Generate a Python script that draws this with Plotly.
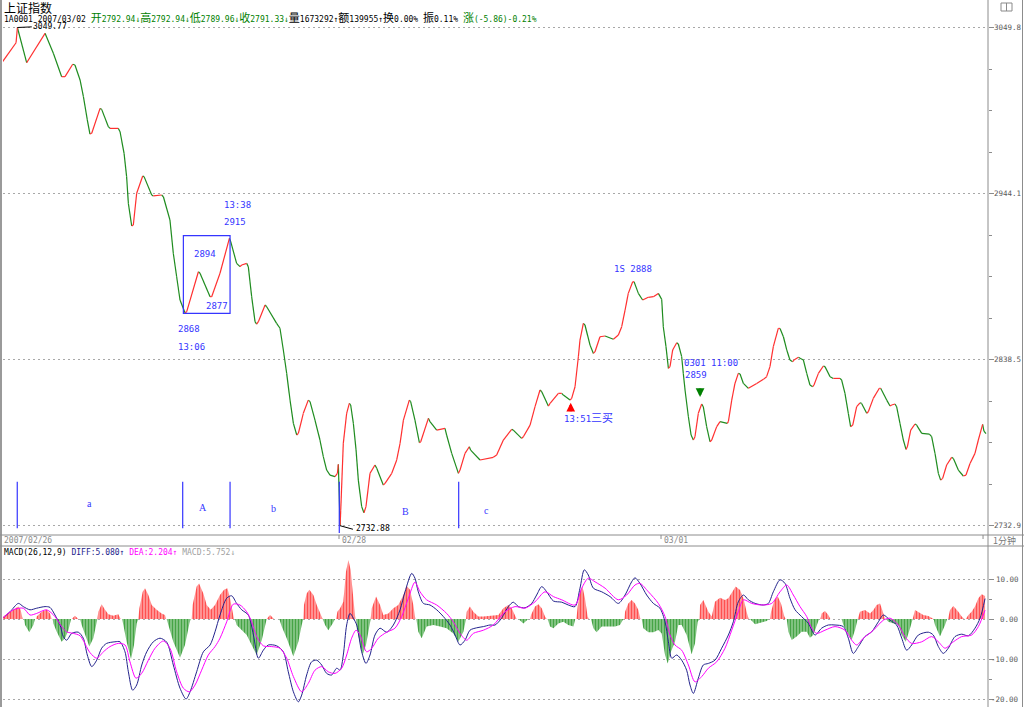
import plotly.graph_objects as go

# ---------------- data (minute index: 02/27 09:30 = 0, 02/28 = 240, 03/01 = 480, 03/02 = 720) -------------
PRICE_MIN = [
    -10.7, -0.7, 0.3, 7.2, 20.9, 27.1, 33.3, 35.8, 41.5, 43.2,
    47.0, 49.5, 52.4, 54.4, 55.7, 61.9, 63.1, 68.1, 69.3, 75.5,
    76.8, 79.8, 81.7, 83.0, 85.5, 86.7, 89.2, 93.7, 94.7, 100.4,
    101.6, 107.8, 109.1, 114.0, 116.5, 119.0, 121.5, 125.2, 126.5, 135.2,
    136.4, 143.9, 145.1, 151.3, 158.3, 159.3, 163.7, 166.2, 167.5, 171.2,
    172.4, 174.9, 177.4, 178.6, 179.9, 184.9, 186.1, 193.5, 196.0, 198.5,
    201.0, 203.5, 206.0, 208.5, 209.7, 213.4, 217.1, 218.4, 222.1, 225.8,
    228.3, 230.8, 233.3, 237.0, 238.8, 239.5,
    240.8, 241.3, 243.2, 245.7, 247.7, 248.7, 250.7, 252.7, 254.4, 256.9,
    258.6, 260.1, 263.1, 266.8, 268.1, 273.0, 274.3, 279.3, 283.0, 285.5,
    288.0, 292.4, 293.4, 296.6, 299.9, 300.9, 306.6, 307.8, 312.8, 319.0,
    320.2, 324.0, 329.0, 330.2, 333.9, 337.1, 338.1, 345.1, 355.0, 357.5,
    362.5, 368.7, 369.9, 376.1, 377.4, 382.4, 386.1, 389.8, 391.1, 396.0,
    397.3, 403.5, 406.0, 407.2, 412.2, 413.4, 415.9, 418.4, 419.6, 422.1,
    423.3, 427.1, 429.6, 430.8, 434.5, 438.3, 444.5, 448.2, 450.7, 453.2,
    455.6, 458.9, 459.9, 463.1, 466.3, 470.5, 474.3, 478.0,
    480.5, 481.7, 483.7, 485.5, 486.7, 488.7, 491.7, 492.9, 495.4, 496.6,
    497.9, 500.4, 502.4, 504.1, 505.3, 507.8, 510.3, 511.5, 514.0, 516.5,
    517.8, 521.5, 524.0, 529.4, 530.2, 532.7, 535.1, 537.6, 538.9, 541.4,
    545.1, 551.3, 556.3, 558.7, 561.2, 563.7, 567.4, 568.7, 571.2, 573.7,
    576.1, 578.1, 579.1, 582.4, 583.6, 586.1, 588.6, 591.0, 593.0, 594.0,
    597.3, 601.0, 602.2, 606.0, 608.4, 613.4, 614.6, 617.1, 619.6, 621.3,
    622.9, 625.8, 628.3, 629.5, 633.3, 634.5, 638.2, 642.7, 643.7, 648.2,
    650.7, 651.9, 654.4, 655.6, 658.1, 660.6, 662.6, 663.6, 666.1, 669.3,
    670.5, 674.3, 680.0, 681.7, 684.2, 686.7, 688.4, 689.9, 692.9, 696.6,
    697.9, 701.6, 705.3, 707.3, 710.3, 714.0, 716.5, 719.7, 720.7, 722.2,
]
PRICE = [
    3028.1, 3040.1, 3049.8, 3027.4, 3046.1, 3033.4, 3018.5, 3018.5, 3026.4, 3025.9,
    3016.4, 3005.8, 2991.0, 2982.0, 2982.5, 2998.3, 2997.7, 2986.7, 2985.6, 2985.6,
    2983.5, 2969.7, 2954.9, 2937.9, 2923.5, 2924.1, 2944.3, 2955.3, 2954.9, 2943.2,
    2942.6, 2943.2, 2942.1, 2927.3, 2906.1, 2891.2, 2876.4, 2868.3, 2869.0, 2894.4,
    2893.4, 2878.5, 2878.5, 2893.4, 2915.6, 2913.5, 2899.7, 2897.6, 2898.7, 2899.7,
    2897.6, 2878.5, 2862.6, 2861.1, 2862.6, 2873.2, 2872.1, 2861.5, 2858.4, 2844.6,
    2829.7, 2812.7, 2797.9, 2790.5, 2791.5, 2804.3, 2812.7, 2811.7, 2800.0, 2787.3,
    2776.7, 2768.2, 2765.0, 2764.0, 2766.1, 2771.8,
    2732.9, 2742.7, 2785.2, 2804.3, 2810.6, 2809.6, 2797.9, 2781.0, 2761.8, 2744.9,
    2741.0, 2744.9, 2766.1, 2771.4, 2769.3, 2758.7, 2759.7, 2766.1, 2774.6, 2785.2,
    2800.0, 2812.7, 2811.7, 2800.0, 2785.6, 2786.2, 2801.1, 2799.0, 2793.6, 2794.7,
    2790.5, 2778.8, 2766.1, 2768.2, 2778.8, 2783.0, 2780.9, 2774.6, 2776.3, 2777.7,
    2787.3, 2794.1, 2793.6, 2788.3, 2789.4, 2796.8, 2808.5, 2819.1, 2818.0, 2808.9,
    2810.6, 2817.0, 2817.0, 2815.9, 2812.7, 2813.8, 2821.2, 2840.3, 2850.9, 2861.5,
    2860.5, 2847.7, 2842.4, 2843.5, 2853.0, 2853.5, 2851.4, 2854.1, 2859.4, 2870.0,
    2880.6, 2888.0, 2888.0, 2880.6, 2876.4, 2878.1, 2878.5, 2880.6,
    2876.8, 2859.4, 2846.7, 2832.9, 2834.0, 2844.6, 2849.2, 2848.4, 2840.3, 2829.7,
    2819.1, 2802.1, 2790.5, 2787.3, 2789.4, 2804.3, 2810.2, 2808.5, 2795.8, 2786.2,
    2787.3, 2795.8, 2799.0, 2797.9, 2799.0, 2812.7, 2823.3, 2829.7, 2829.3, 2823.3,
    2820.2, 2823.3, 2825.9, 2827.6, 2834.0, 2846.7, 2858.3, 2858.3, 2853.0, 2844.6,
    2838.2, 2837.1, 2838.2, 2839.9, 2839.3, 2838.2, 2829.7, 2822.3, 2821.2, 2822.3,
    2829.7, 2834.4, 2834.0, 2827.6, 2826.5, 2826.5, 2825.5, 2817.0, 2804.3, 2795.8,
    2796.8, 2808.5, 2811.0, 2810.6, 2804.3, 2805.3, 2813.8, 2820.2, 2820.2, 2812.7,
    2808.9, 2809.6, 2810.2, 2808.5, 2797.9, 2787.3, 2781.3, 2783.0, 2793.6, 2797.5,
    2796.8, 2791.5, 2791.1, 2789.4, 2778.8, 2766.1, 2761.8, 2762.9, 2771.4, 2776.3,
    2775.6, 2768.2, 2764.4, 2765.0, 2772.4, 2778.8, 2787.3, 2797.2, 2792.9, 2791.3,
]

HIST_MIN = [
    -11.4, -10.2, -5.2, -1.5, 1.0, 2.7, 4.2, 5.2, 6.0, 9.2, 12.2, 13.4,
    14.2, 14.7, 18.4, 22.1, 24.6, 25.8, 26.6, 27.1, 29.6, 33.3, 35.8, 38.3, 39.5, 40.3,
    40.8, 43.2, 45.7, 47.0, 48.2, 50.7, 53.9, 56.9, 58.9, 59.6,
    59.9, 60.6, 63.1, 65.6, 68.1, 71.8, 75.5, 77.3, 78.3, 79.3, 81.7, 85.0, 87.2, 89.2, 90.0,
    90.4, 91.2, 93.7, 95.4, 97.9, 100.4, 104.1, 107.8, 110.3, 111.1,
    111.6, 112.8, 116.5, 121.5, 125.2, 128.5, 129.4,
    130.2, 130.9, 133.9, 135.7, 138.9, 141.4, 144.4, 147.6, 151.3, 154.3, 156.8, 158.8, 160.8, 161.7,
    162.5, 163.7, 167.5, 171.2, 174.9, 178.6, 182.4, 184.9, 185.6, 186.1, 188.6, 191.6,
    195.5, 197.3, 201.0, 206.0, 209.7, 212.2, 212.9,
    213.4, 213.9, 215.9, 217.9, 220.9, 223.4, 226.3, 227.3, 227.8, 229.6, 232.0, 235.3, 237.0,
    237.8, 238.8, 240.8, 243.2, 245.2, 247.0, 248.7, 250.2, 251.4, 252.2,
    252.7, 253.2, 255.7, 257.6, 260.1, 262.6, 263.4,
    263.6, 264.4, 267.6, 270.6, 273.0, 276.8, 280.5, 284.2, 288.0, 290.4, 292.9, 295.4, 296.9,
    297.6, 299.1, 301.6, 305.3, 310.3, 315.3, 320.2, 325.2, 328.9, 332.7, 334.2,
    334.7, 335.2, 337.6, 340.1, 343.9, 347.6, 352.5,
    356.3, 358.8, 362.5, 366.2, 368.7, 371.2, 372.4, 373.7, 377.4, 381.1,
    382.4, 383.1, 386.1, 388.6, 391.1, 393.5, 394.8,
    395.5, 397.3, 399.8, 403.5, 407.2, 410.9, 414.7, 416.1,
    416.9, 417.9, 419.6, 421.4, 423.3, 425.3, 426.3,
    427.8, 429.6, 432.0, 435.8, 440.7, 445.7, 449.4, 451.9,
    452.7, 453.2, 455.6, 458.1, 460.6, 463.1, 464.6,
    465.6, 466.8, 470.6, 474.3, 478.0, 480.5, 483.0, 485.0, 487.4, 490.4, 492.9, 495.4, 499.1, 502.8, 505.3, 507.3, 508.1,
    508.6, 509.1, 511.5, 515.3, 517.8, 520.2, 524.0, 527.7, 530.2, 533.2, 535.6, 538.9, 541.4, 543.8, 545.3,
    546.3, 550.1, 555.0, 558.8, 560.5,
    561.2, 562.0, 564.5, 567.0, 569.4, 571.9, 572.9,
    573.7, 574.9, 577.4, 581.1, 584.8, 588.6, 591.0, 593.5, 596.0, 597.8,
    598.8, 599.7, 602.2, 604.7, 606.2,
    614.6, 615.9, 619.6, 622.1, 624.6, 626.1,
    626.6, 628.3, 632.0, 635.8, 638.3, 640.7, 643.2, 644.9, 646.9,
    647.7, 649.4, 653.2, 656.9, 659.4, 662.4, 665.6, 667.1,
    667.6, 669.3, 671.8, 675.5, 679.2, 681.7, 682.7,
    683.2, 684.2, 687.9, 691.7, 693.2,
    693.9, 695.4, 697.9, 701.6, 704.1, 706.1,
    707.1, 709.1, 711.5, 714.0, 716.5, 719.0, 721.5,
]
HIST = [
    0, 0.6, 1.8, 2.7, 3.1, 2.3, 0, 0, -1.5, -3.3, -1.5, 0,
    0, 0.6, 1.8, 2.3, 1.4, 0, 0, -1.1, -3.2, -5.7, -4.8, -2.8, -0.7, 0,
    0, 0.8, 0, 0, -1.5, -4.0, -6.9, -4.8, -1.5, 0,
    0, 1.8, 3.7, 2.3, 1.2, 0.8, 1.2, 0, 0, -1.5, -5.7, -10.0, -6.5, -1.1, 0,
    0, 2.7, 6.8, 7.7, 6.0, 3.5, 2.3, 1.4, 1.0, 0,
    0, -1.5, -5.7, -9.7, -6.5, -1.1, 0,
    0, 3.5, 8.1, 8.9, 6.4, 3.5, 2.3, 3.5, 6.0, 7.3, 7.7, 5.2, 1.8, 0,
    0, -1.5, -2.8, -4.0, -6.5, -9.0, -5.3, -1.5, 0, 0, 1.0, 0,
    0, -1.9, -4.8, -9.4, -5.7, -1.5, 0,
    0, 3.5, 6.4, 7.3, 6.0, 3.5, 1.0, 0, 0, -1.5, -2.8, -1.1, 0,
    0, 1.8, 2.7, 4.3, 11.8, 14.75, 12.25, 6.8, 1.8, 0,
    0, -2.3, -6.5, -9.0, -6.5, -1.5, 0,
    0, 2.7, 5.6, 3.5, 1.0, 1.4, 2.7, 3.5, 6.0, 8.3, 7.3, 3.5, 0,
    0, -3.2, -4.8, -1.9, -1.5, -1.9, -2.3, -3.6, -5.7, -3.2, 0,
    0, 1.8, 3.1, 1.8, 0.6, 0.6, 0.75,
    1.0, 1.0, 2.7, 3.5, 2.7, 0.6, 0, 0, -1.1, 0,
    0, 1.0, 3.1, 3.7, 2.7, 0.6, 0,
    0, -1.9, -2.3, -1.1, -0.7, -1.5, -1.9, 0,
    0, 3.1, 6.8, 8.1, 5.2, 0.6, 0,
    0, -2.3, -3.3, -1.9, -1.9, -1.9, -1.5, 0,
    0, 1.8, 3.9, 4.75, 3.9, 2.25, 0,
    0, -2.3, -3.3, -3.3, -2.75, -3.6, -9.0, -11.1, -8.2, -5.7, -1.5, -1.5, -4.0, -8.8, -6.1, -0.7, 0,
    0, 3.5, 4.75, 1.8, 0.6, 4.3, 5.3, 4.75, 5.2, 6.8, 8.1, 7.25, 5.2, 1.8, 0,
    0, -1.3, -0.8, -0.5, 0,
    0, 1.8, 4.75, 5.6, 3.9, 0.6, 0,
    0, -3.2, -5.25, -4.4, -3.2, -3.2, -4.7, -4.0, -1.9, 0,
    0, 1.4, 2.0, 1.0, 0,
    0, -1.5, -3.6, -5.25, -2.75, 0,
    0, 1.8, 2.25, 1.4, 2.25, 3.5, 3.9, 2.25, 0,
    0, -0.7, -1.1, -1.5, -4.0, -5.7, -2.3, 0,
    0, 2.25, 1.8, 1.0, 0.75, 0.2, 0,
    0, -1.5, -4.4, -1.5, 0,
    0, 2.25, 3.25, 1.8, 0.6, 0,
    0, 1.0, 1.8, 3.1, 5.2, 6.2, 5.75,
]

DIFF_MIN = [
    -11.4, -5.2, 1.0, 4.7, 9.7, 14.7, 20.9, 24.6, 28.3, 32.1,
    34.5, 37.0, 40.8, 45.7, 49.4, 52.4, 55.7, 59.4, 63.1, 66.8,
    73.0, 76.8, 80.5, 83.0, 86.2, 89.2, 93.0, 96.7, 101.6, 106.6,
    111.6, 116.5, 121.5, 126.0, 129.0, 133.9, 138.9, 143.9, 147.6, 151.3,
    156.3, 160.0, 163.7, 167.5, 172.4, 176.2, 179.9, 183.6, 187.3, 193.5,
    198.5, 202.2, 206.0, 209.7, 212.2, 215.9, 219.6, 223.4, 227.1, 230.8,
    234.5, 238.3, 240.8, 243.2, 245.7, 248.2, 250.7, 253.2, 256.9, 260.1,
    263.1, 266.8, 270.6, 275.5, 280.5, 285.5, 289.2, 294.2, 296.6, 299.1,
    302.9, 307.8, 312.8, 317.8, 322.7, 326.5, 330.2, 333.9, 337.6, 342.6,
    347.6, 352.5, 356.3, 361.2, 366.2, 369.9, 373.7, 378.6, 383.6, 387.3,
    391.1, 394.8, 399.8, 406.0, 410.9, 415.9, 419.6, 422.8, 425.8, 429.6,
    435.8, 442.0, 448.2, 453.2, 458.1, 460.6, 464.3, 469.3, 474.3, 479.2,
    483.0, 485.5, 488.0, 491.7, 495.4, 499.1, 501.6, 504.1, 507.8, 511.5,
    515.3, 520.2, 525.2, 530.2, 533.9, 537.6, 541.4, 545.1, 550.1, 556.3,
    560.0, 563.7, 568.7, 572.4, 576.1, 579.9, 584.8, 589.8, 594.8, 599.7,
    604.7, 609.7, 615.9, 619.6, 623.3, 627.1, 632.0, 637.0, 642.0, 645.7,
    650.7, 655.6, 659.4, 663.1, 666.8, 671.8, 679.2, 682.9, 686.7, 690.4,
    694.1, 699.1, 704.1, 709.1, 714.0, 717.8, 721.5,
]
DIFF = [
    0.0, 1.8, 3.9, 3.1, 2.3, 2.7, 3.1, 2.9, 1.0, -1.5,
    -4.4, -5.3, -3.6, -3.3, -4.8, -9.0, -11.9, -10.3, -7.3, -6.1,
    -5.7, -5.7, -8.2, -13.2, -17.8, -16.5, -11.5, -8.2, -5.7, -4.8,
    -5.8, -11.5, -17.3, -20.0, -18.2, -13.2, -8.2, -6.5, -3.2, 1.0,
    5.2, 5.8, 3.9, 2.3, 1.0, -4.0, -9.8, -7.8, -6.5, -6.7,
    -8.2, -13.2, -18.2, -20.7, -19.0, -14.0, -10.7, -10.3, -11.5, -13.6,
    -14.0, -12.3, -12.8, -9.0, -1.5, 1.4, 0.2, -1.5, -8.2, -11.1,
    -9.0, -4.0, -2.3, -3.3, -1.5, 2.3, 6.8, 11.4, 10.2, 6.8,
    3.9, 3.5, 2.3, 0.6, -1.5, -4.0, -6.5, -5.3, -2.8, -2.2,
    -1.9, -1.5, -1.5, 0.2, 3.1, 4.2, 3.1, 2.8, 3.9, 6.0,
    8.1, 6.8, 4.5, 4.2, 3.5, 3.1, 7.7, 12.3, 11.0, 7.7,
    6.8, 5.6, 3.9, 6.0, 9.3, 10.3, 8.9, 6.0, 3.9, 2.7,
    -0.7, -5.7, -9.8, -9.0, -10.3, -12.8, -16.5, -18.6, -14.8, -11.5,
    -11.1, -10.3, -7.3, -4.0, -0.7, 4.3, 6.0, 4.8, 3.9, 3.5,
    3.9, 6.8, 9.8, 8.9, 5.2, 2.3, 0.6, -1.1, -4.0, -2.3,
    -1.5, -1.5, -1.9, -4.8, -8.6, -6.9, -4.4, -3.2, -0.7, 1.0,
    -0.3, -1.5, -4.8, -7.8, -6.5, -4.0, -3.3, -4.0, -6.9, -8.6,
    -7.3, -4.4, -3.8, -4.2, -2.3, 0.2, 5.1,
]

DEA_MIN = [
    -11.4, -2.7, 4.7, 9.7, 14.7, 22.1, 28.3, 33.3, 37.0, 42.0,
    47.0, 54.4, 59.4, 64.4, 69.3, 75.5, 80.5, 84.2, 88.7, 92.9,
    97.9, 102.9, 109.1, 114.0, 119.0, 124.0, 128.5, 132.7, 137.6, 142.6,
    147.6, 151.3, 156.3, 161.2, 166.2, 171.2, 174.9, 178.6, 183.6, 189.8,
    196.0, 201.0, 206.0, 212.2, 217.1, 222.1, 227.1, 232.0, 237.0, 242.0,
    245.7, 249.4, 252.7, 255.7, 260.6, 264.4, 269.3, 275.5, 281.7, 286.7,
    291.7, 296.6, 300.4, 305.3, 312.8, 320.2, 325.2, 330.2, 335.2, 340.1,
    347.6, 355.0, 363.7, 371.2, 378.6, 386.1, 393.5, 399.8, 406.0, 415.9,
    420.9, 425.8, 430.8, 438.3, 448.2, 454.4, 460.6, 464.3, 470.6, 478.0,
    483.0, 486.7, 490.4, 495.4, 500.4, 505.3, 510.3, 515.3, 521.5, 527.7,
    532.7, 537.6, 541.4, 547.6, 555.0, 562.5, 568.7, 573.7, 578.6, 583.6,
    588.6, 592.3, 596.0, 602.2, 609.7, 617.1, 622.1, 625.8, 630.8, 638.3,
    645.7, 650.7, 656.9, 661.8, 666.8, 674.3, 681.7, 686.7, 691.7, 697.9,
    704.1, 711.5, 716.5, 721.5,
]
DEA = [
    0.0, 2.3, 2.7, 1.0, 1.4, 2.3, 0.6, -1.9, -3.2, -3.6,
    -4.2, -8.4, -9.8, -8.2, -6.9, -6.1, -6.5, -10.7, -14.8, -13.6,
    -10.3, -7.3, -5.5, -7.3, -13.2, -17.3, -18.2, -16.5, -12.8, -9.0,
    -6.9, -4.8, -0.7, 3.7, 3.5, 1.8, -0.7, -4.4, -6.7, -6.9,
    -7.3, -9.8, -14.4, -18.2, -16.1, -12.8, -11.9, -13.2, -13.6, -12.3,
    -9.0, -4.8, -2.8, -4.0, -8.2, -7.3, -4.8, -3.3, -2.3, 0.6,
    5.2, 9.2, 6.8, 4.8, 3.5, 1.4, -0.7, -3.6, -5.3, -3.6,
    -2.8, -1.5, 1.8, 3.1, 2.7, 4.3, 6.8, 5.6, 4.8, 3.5,
    7.7, 10.2, 9.3, 7.7, 4.8, 6.0, 8.5, 8.9, 6.8, 3.9,
    0.6, -4.0, -6.5, -7.8, -11.5, -15.7, -14.4, -12.3, -10.7, -7.3,
    -2.8, 1.8, 4.8, 3.9, 3.5, 3.9, 6.8, 8.5, 6.0, 3.1,
    0.6, -2.3, -3.6, -2.8, -1.9, -2.8, -5.3, -6.5, -4.8, -2.8,
    -0.3, 0.2, -1.5, -4.4, -6.1, -5.7, -4.4, -5.7, -7.3, -5.7,
    -4.4, -4.0, -1.9, 2.2,
]

PRICE_TICKS = [2732.9, 2838.5, 2944.1, 3049.8]
PRICE_TICKTEXT = ["2732.9", "2838.5", "2944.1", "3049.8"]
PRICE_MINOR = [2759.3, 2785.7, 2812.1, 2864.9, 2891.3, 2917.7, 2970.5, 2996.9, 3023.3]
MACD_TICKS = [10, 0, -10, -20]
MACD_TICKTEXT = ["10.00", "0.00", "-10.00", "-20.00"]
MACD_MINOR = [5, -5, -15]
DAY_STARTS = [240, 480, 720]
DAY_LABELS = ["02/28", "03/01"]

# wave-segment markers and labels
WAVE_LINES = [0.2, 123.5, 158.8, 240.2, 329.2]
WAVE_LABELS = ["a", "A", "b", "B", "c"]
WAVE_LABEL_X = [54.4, 138.9, 191.0, 289.9, 350.1]
WAVE_LABEL_Y = [2747.2, 2744.6, 2744.0, 2742.1, 2742.7]

# blue note texts (minute, price, text)
NOTE_X = [153.3, 153.3, 131.0, 140.1, 119.0, 119.0, 444.0, 496.6, 497.1]
NOTE_Y = [2936.8, 2926.2, 2905.7, 2872.8, 2857.9, 2846.5, 2895.9, 2836.1, 2828.6]
NOTE_T = ["13:38", "2915", "2894", "2877", "2868", "13:06", "1S 2888", "0301 11:00", "2859"]

# ---------------- figure ----------------
W, H = 1024, 707
L, R = 3, 988
X_RANGE = [-10.43, 723.7]
MONO = "DejaVu Sans Mono, Noto Sans CJK SC"
BLUE = "#3535ff"
FRAME = "#8c8c8c"


def px_x(px):
    return (px - L) / (R - L)


def px_y(py):
    return (H - py) / H


fig = go.Figure()

# price line, coloured by direction
rx, ry, gx, gy = [], [], [], []
for i in range(len(PRICE) - 1):
    if PRICE[i + 1] >= PRICE[i]:
        rx += [PRICE_MIN[i], PRICE_MIN[i + 1], None]
        ry += [PRICE[i], PRICE[i + 1], None]
    else:
        gx += [PRICE_MIN[i], PRICE_MIN[i + 1], None]
        gy += [PRICE[i], PRICE[i + 1], None]
fig.add_trace(go.Scatter(x=gx, y=gy, mode="lines", line=dict(color="#1f8c1f", width=1.2),
                         hoverinfo="skip", xaxis="x", yaxis="y"))
fig.add_trace(go.Scatter(x=rx, y=ry, mode="lines", line=dict(color="#ff3030", width=1.2),
                         hoverinfo="skip", xaxis="x", yaxis="y"))

# MACD histogram (striped fills)
pos = [max(v, 0) for v in HIST]
neg = [min(v, 0) for v in HIST]
fig.add_trace(go.Scatter(x=HIST_MIN, y=pos, mode="lines", line=dict(width=0, color="#ff0000"),
                         fill="tozeroy", fillcolor="#ff9a9a",
                         fillpattern=dict(shape="|", fgcolor="#ff0000", bgcolor="#ffa0a0",
                                          size=3, solidity=0.45),
                         hoverinfo="skip", xaxis="x2", yaxis="y2"))
fig.add_trace(go.Scatter(x=HIST_MIN, y=neg, mode="lines", line=dict(width=0, color="#008000"),
                         fill="tozeroy", fillcolor="#80c080",
                         fillpattern=dict(shape="|", fgcolor="#008000", bgcolor="#8cc88c",
                                          size=3, solidity=0.45),
                         hoverinfo="skip", xaxis="x2", yaxis="y2"))
fig.add_trace(go.Scatter(x=DIFF_MIN, y=DIFF, mode="lines",
                         line=dict(color="#23238c", width=1, shape="spline", smoothing=0.8),
                         hoverinfo="skip", xaxis="x2", yaxis="y2"))
fig.add_trace(go.Scatter(x=DEA_MIN, y=DEA, mode="lines",
                         line=dict(color="#ff00ff", width=1, shape="spline", smoothing=0.8),
                         hoverinfo="skip", xaxis="x2", yaxis="y2"))

axis_common = dict(showgrid=False, zeroline=False, showline=False, showticklabels=False, ticks="")
grid_common = dict(showgrid=True, gridcolor="#a8a8a8", griddash="2px,3px", gridwidth=1,
                   zeroline=False, showline=False, side="right", ticks="outside",
                   ticklen=5, tickcolor=FRAME, tickwidth=1, showticklabels=False)

fig.update_layout(
    width=W, height=H, margin=dict(l=L, r=W - R, t=0, b=0),
    paper_bgcolor="white", plot_bgcolor="white", showlegend=False,
    xaxis=dict(domain=[0, 1], range=X_RANGE, anchor="y", **axis_common),
    xaxis2=dict(domain=[0, 1], range=X_RANGE, anchor="y2", matches="x", **axis_common),
    yaxis=dict(domain=[px_y(533), px_y(12)], range=[2728.13, 3059.66], anchor="x",
               tickvals=PRICE_TICKS,
               minor=dict(tickvals=PRICE_MINOR, ticks="outside", ticklen=3, tickcolor=FRAME,
                          showgrid=False),
               **grid_common),
    yaxis2=dict(domain=[0, px_y(548)], range=[-22, 17.75], anchor="x2",
                tickvals=MACD_TICKS,
                minor=dict(tickvals=MACD_MINOR, ticks="outside", ticklen=3, tickcolor=FRAME,
                           showgrid=False),
                **grid_common),
)

shapes = []
# frame lines
shapes.append(dict(type="line", xref="paper", yref="paper", x0=px_x(1), x1=px_x(1), y0=0, y1=1,
                   line=dict(color="#9a9a9a", width=2)))
shapes.append(dict(type="line", xref="paper", yref="paper", x0=1, x1=1, y0=0, y1=1,
                   line=dict(color=FRAME, width=1)))
shapes.append(dict(type="line", xref="paper", yref="paper", x0=px_x(1022.5), x1=px_x(1022.5), y0=0, y1=1,
                   line=dict(color=FRAME, width=1)))
for yy in (535, 546):
    shapes.append(dict(type="line", xref="paper", yref="paper", x0=px_x(0), x1=px_x(1024),
                       y0=px_y(yy), y1=px_y(yy), line=dict(color=FRAME, width=1)))
for d in DAY_STARTS:
    shapes.append(dict(type="line", xref="x", yref="paper", x0=d, x1=d, y0=px_y(535), y1=px_y(539),
                       line=dict(color=FRAME, width=1)))
# small window icon top right
shapes.append(dict(type="rect", xref="paper", yref="paper", x0=px_x(1001), x1=px_x(1012),
                   y0=px_y(11), y1=px_y(3), line=dict(color="#8a8a8a", width=1)))
shapes.append(dict(type="line", xref="paper", yref="paper", x0=px_x(1006.5), x1=px_x(1006.5),
                   y0=px_y(11), y1=px_y(3), line=dict(color="#8a8a8a", width=1)))
# wave separators
for i, wx in enumerate(WAVE_LINES):
    shapes.append(dict(type="line", xref="x", yref="y", x0=wx, x1=wx, y0=2760.7,
                       y1=2728.2 if i == 3 else 2731.1, line=dict(color=BLUE, width=1.2)))
# box around the A wave
shapes.append(dict(type="rect", xref="x", yref="y", x0=124.0, x1=158.8, y0=2867.9, y1=2917.3,
                   line=dict(color=BLUE, width=1.2)))
# high / low leaders
shapes.append(dict(type="line", xref="x", yref="y", x0=0.3, x1=11.0, y0=3049.8, y1=3050.2,
                   line=dict(color="black", width=1)))
shapes.append(dict(type="line", xref="x", yref="y", x0=240.7, x1=250.4, y0=2732.8, y1=2730.5,
                   line=dict(color="black", width=1)))
fig.update_layout(shapes=shapes)

ann = []


def text(x, y, t, size=8, color="black", xanchor="left", xref="paper", yref="paper", family=MONO):
    ann.append(dict(x=x, y=y, xref=xref, yref=yref, text=t, showarrow=False, xanchor=xanchor,
                    yanchor="middle", font=dict(family=family, size=size, color=color),
                    borderpad=0))


def seg(t, color, size=None):
    s = f"color:{color}"
    if size:
        s += f";font-size:{size}px"
    return f'<span style="{s}">{t}</span>'


GREEN_T = "#008000"
text(px_x(3), px_y(8), "上证指数", size=12, family="Noto Sans CJK SC")
hdr = (seg("1A0001 2007/03/02 ", "black")
       + seg("开", GREEN_T, 11) + seg("2792.94↓", GREEN_T)
       + seg("高", GREEN_T, 11) + seg("2792.94↓", GREEN_T)
       + seg("低", GREEN_T, 11) + seg("2789.96↓", GREEN_T)
       + seg("收", GREEN_T, 11) + seg("2791.33↓", GREEN_T)
       + seg("量", "black", 11) + seg("1673292↑", "black")
       + seg("额", "black", 11) + seg("139955↑", "black")
       + seg("换", "black", 11) + seg("0.00% ", "black")
       + seg("振", "black", 11) + seg("0.11% ", "black")
       + seg("涨", GREEN_T, 11) + seg("(-5.86)-0.21%", GREEN_T))
text(px_x(3), px_y(18.5), hdr, size=8)
macd_hdr = (seg("MACD(26,12,9) ", "black") + seg("DIFF:5.080↑ ", "#1c1c8c")
            + seg("DEA:2.204↑ ", "#ff00ff") + seg("MACD:5.752↓", "#a0a0a0"))
text(px_x(3), px_y(552.5), macd_hdr, size=8)

# date strip
text(px_x(3), px_y(540.5), "2007/02/26", color="#8a8a8a")
for d, lab in zip(DAY_STARTS[:2], DAY_LABELS):
    ann.append(dict(x=d, y=px_y(540.5), xref="x", yref="paper", text=lab, showarrow=False,
                    xanchor="left", xshift=2, yanchor="middle", borderpad=0,
                    font=dict(family=MONO, size=8, color="#8a8a8a")))
text(px_x(992), px_y(540.5), "1分钟", size=9, color="#7a7a7a", family="Noto Sans CJK SC")

# right axis labels
for v, t in zip(PRICE_TICKS, PRICE_TICKTEXT):
    text(px_x(993), v, t, size=7.5, color="#5a5a5a", xanchor="left", yref="y")
for v, t in zip(MACD_TICKS, MACD_TICKTEXT):
    text(px_x(1020), v, t, size=7.5, color="#5a5a5a", xanchor="right", yref="y2")

# price extremes
text(11.2, 3050.3, "3049.77", xref="x", yref="y")
text(251.9, 2731.3, "2732.88", xref="x", yref="y")

# notes
for x, y, t in zip(NOTE_X, NOTE_Y, NOTE_T):
    text(x, y, t, size=9, color=BLUE, xref="x", yref="y")
text(406.7, 2801.1, "13:51" + seg("三买", BLUE, 11), size=9, color=BLUE, xref="x", yref="y")
for wx, wy, t in zip(WAVE_LABEL_X, WAVE_LABEL_Y, WAVE_LABELS):
    ann.append(dict(x=wx, y=wy, xref="x", yref="y", text=t, showarrow=False, xanchor="center",
                    yanchor="middle", font=dict(family="Liberation Serif", size=10, color=BLUE)))

# buy / sell arrows
ann.append(dict(x=412.7, y=2811.0, xref="x", yref="y", text="", showarrow=True, ax=0, ay=10,
                arrowhead=2, arrowsize=0.7, arrowwidth=2.5, arrowcolor="#ff0000", standoff=0))
ann.append(dict(x=509.1, y=2814.7, xref="x", yref="y", text="", showarrow=True, ax=0, ay=-10,
                arrowhead=2, arrowsize=0.7, arrowwidth=2.5, arrowcolor="#008000", standoff=0))

fig.update_layout(annotations=ann)
fig.write_html("out.html")
